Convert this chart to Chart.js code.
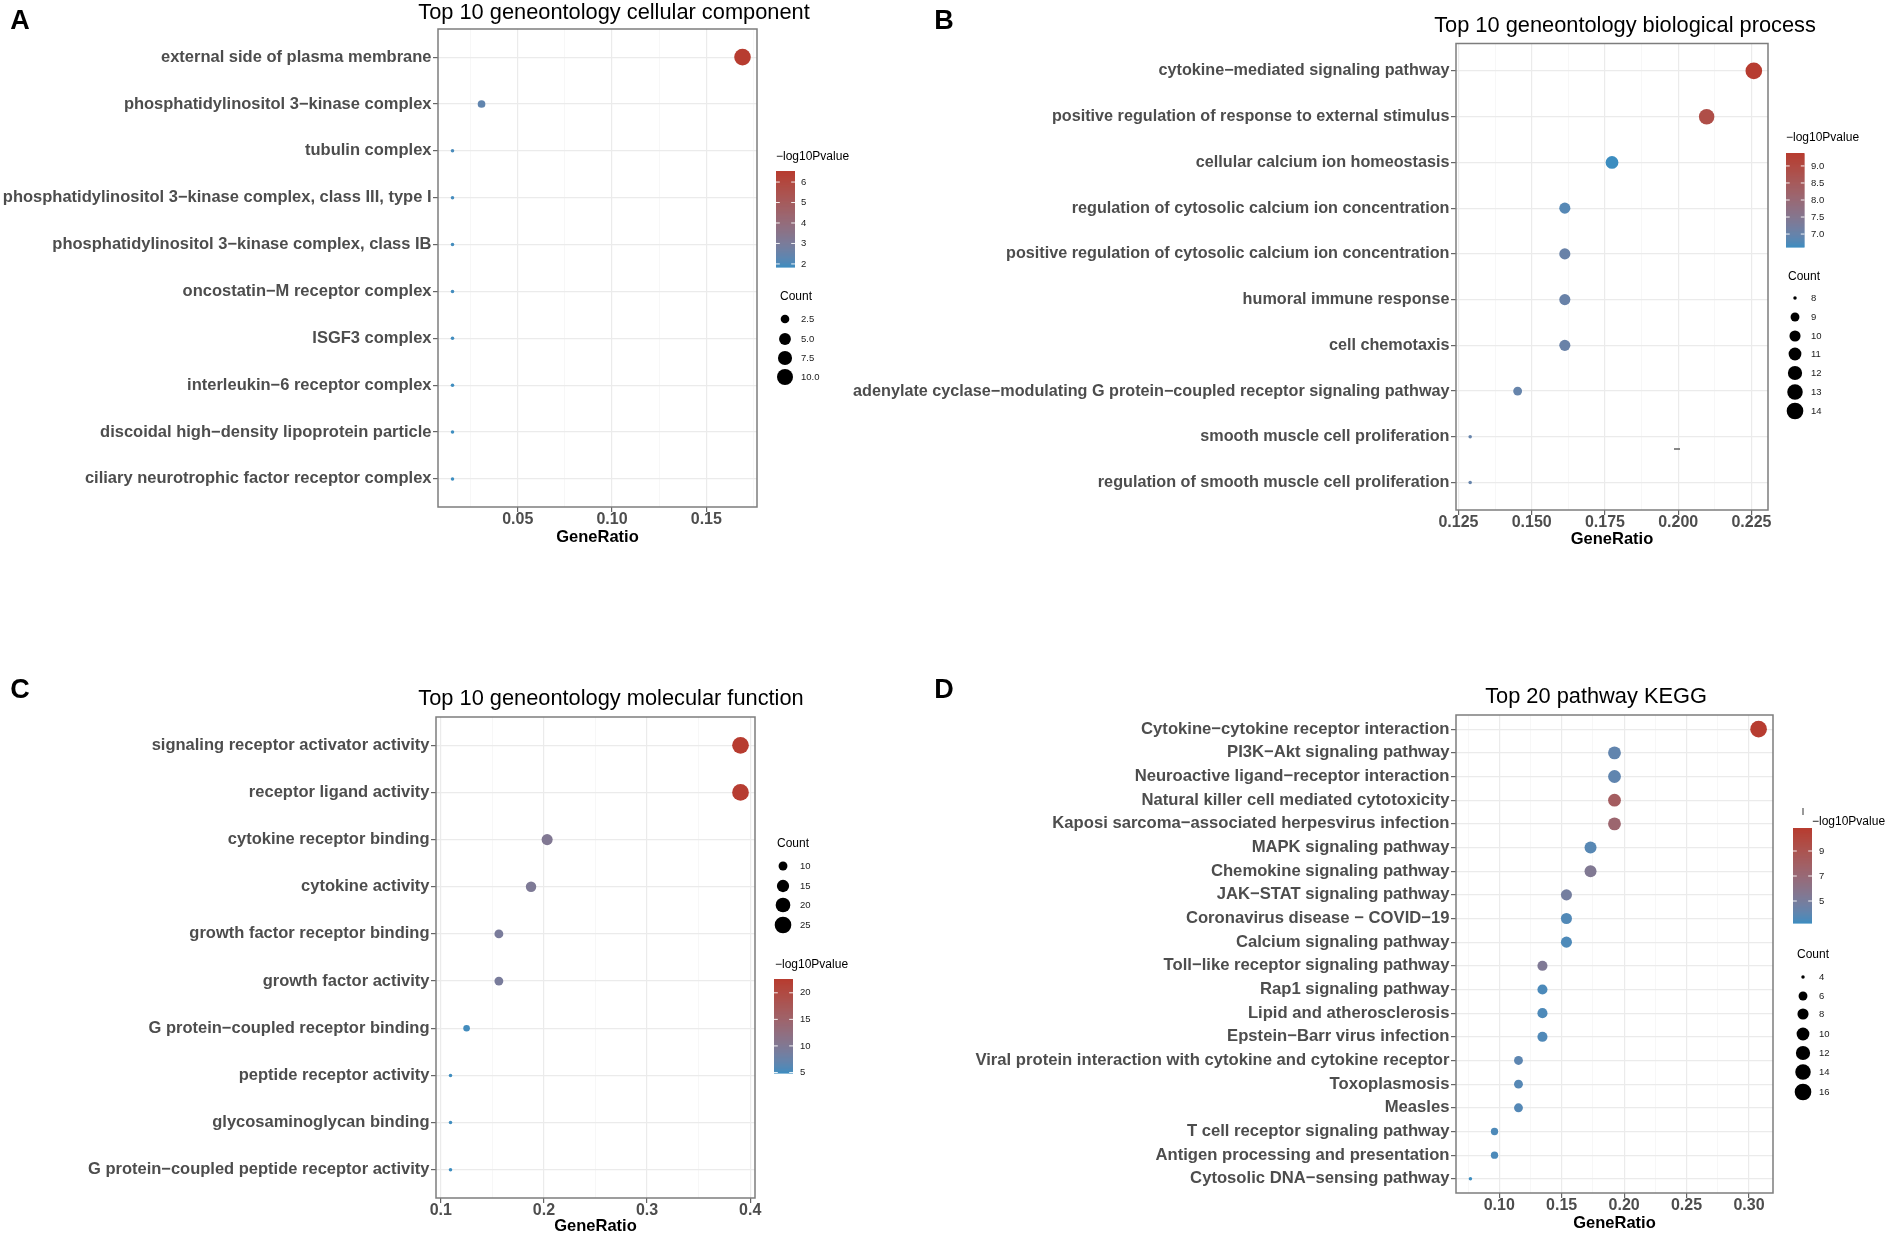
<!DOCTYPE html>
<html><head><meta charset="utf-8">
<script src="https://cdn.jsdelivr.net/npm/chart.js@4.4.1/dist/chart.umd.min.js"></script>
<style>
html,body{margin:0;padding:0;background:#fff;}
body{width:1890px;height:1234px;position:relative;overflow:hidden;}
canvas{position:absolute;}
</style></head><body>
<canvas id="cA" width="850" height="600" style="left:0px;top:0px"></canvas>
<canvas id="cB" width="1090" height="600" style="left:800px;top:0px"></canvas>
<canvas id="cC" width="850" height="660" style="left:0px;top:600px"></canvas>
<canvas id="cD" width="1090" height="660" style="left:800px;top:600px"></canvas>
<script>
// ================= DATA =================
// Panel A
const titleA = 'Top 10 geneontology cellular component';
const catsA = ['external side of plasma membrane','phosphatidylinositol 3−kinase complex','tubulin complex','phosphatidylinositol 3−kinase complex, class III, type I','phosphatidylinositol 3−kinase complex, class IB','oncostatin−M receptor complex','ISGF3 complex','interleukin−6 receptor complex','discoidal high−density lipoprotein particle','ciliary neurotrophic factor receptor complex'];
const ratioA = [0.1692,0.0308,0.0154,0.0154,0.0154,0.0154,0.0154,0.0154,0.0154,0.0154];
const countA = [11,2,1,1,1,1,1,1,1,1];
const logpA  = [6.54,2.4,2.0,1.95,1.93,1.91,1.90,1.88,1.86,1.85];
const xTicksA = [0.05,0.10,0.15];
const xTickLabelsA = ['0.05','0.10','0.15'];
const colorTicksA = [2,3,4,5,6];
const colorTickLabelsA = ['2','3','4','5','6'];
const sizeBreaksA = [2.5,5.0,7.5,10.0];
const sizeLabelsA = ['2.5','5.0','7.5','10.0'];

// Panel B
const titleB = 'Top 10 geneontology biological process';
const catsB = ['cytokine−mediated signaling pathway','positive regulation of response to external stimulus','cellular calcium ion homeostasis','regulation of cytosolic calcium ion concentration','positive regulation of cytosolic calcium ion concentration','humoral immune response','cell chemotaxis','adenylate cyclase−modulating G protein−coupled receptor signaling pathway','smooth muscle cell proliferation','regulation of smooth muscle cell proliferation'];
const ratioB = [0.2258,0.2097,0.1774,0.1613,0.1613,0.1613,0.1613,0.1452,0.1290,0.1290];
const countB = [14,13,11,10,10,10,10,9,8,8];
const logpB  = [9.38,8.9,6.62,6.82,7.05,7.05,7.05,7.0,7.0,7.0];
const xTicksB = [0.125,0.150,0.175,0.200,0.225];
const xTickLabelsB = ['0.125','0.150','0.175','0.200','0.225'];
const colorTicksB = [7.0,7.5,8.0,8.5,9.0];
const colorTickLabelsB = ['7.0','7.5','8.0','8.5','9.0'];
const sizeBreaksB = [8,9,10,11,12,13,14];
const sizeLabelsB = ['8','9','10','11','12','13','14'];

// Panel C
const titleC = 'Top 10 geneontology molecular function';
const catsC = ['signaling receptor activator activity','receptor ligand activity','cytokine receptor binding','cytokine activity','growth factor receptor binding','growth factor activity','G protein−coupled receptor binding','peptide receptor activity','glycosaminoglycan binding','G protein−coupled peptide receptor activity'];
const ratioC = [0.3906,0.3906,0.2031,0.1875,0.1563,0.1563,0.1250,0.1094,0.1094,0.1094];
const countC = [25,25,13,12,10,10,8,7,7,7];
const logpC  = [22.6,22.4,10.2,9.8,9.3,9.2,5.2,5.0,5.0,4.9];
const xTicksC = [0.1,0.2,0.3,0.4];
const xTickLabelsC = ['0.1','0.2','0.3','0.4'];
const colorTicksC = [5,10,15,20];
const colorTickLabelsC = ['5','10','15','20'];
const sizeBreaksC = [10,15,20,25];
const sizeLabelsC = ['10','15','20','25'];

// Panel D
const titleD = 'Top 20 pathway KEGG';
const catsD = ['Cytokine−cytokine receptor interaction','PI3K−Akt signaling pathway','Neuroactive ligand−receptor interaction','Natural killer cell mediated cytotoxicity','Kaposi sarcoma−associated herpesvirus infection','MAPK signaling pathway','Chemokine signaling pathway','JAK−STAT signaling pathway','Coronavirus disease − COVID−19','Calcium signaling pathway','Toll−like receptor signaling pathway','Rap1 signaling pathway','Lipid and atherosclerosis','Epstein−Barr virus infection','Viral protein interaction with cytokine and cytokine receptor','Toxoplasmosis','Measles','T cell receptor signaling pathway','Antigen processing and presentation','Cytosolic DNA−sensing pathway'];
const ratioD = [0.3077,0.1923,0.1923,0.1923,0.1923,0.1731,0.1731,0.1538,0.1538,0.1538,0.1346,0.1346,0.1346,0.1346,0.1154,0.1154,0.1154,0.0962,0.0962,0.0769];
const countD = [16,10,10,10,10,9,9,8,8,8,7,7,7,7,6,6,6,5,5,4];
const logpD  = [10.84,4.15,4.1,8.2,7.4,3.85,5.5,4.9,3.7,3.6,5.4,3.55,3.6,3.65,4.0,3.8,3.75,3.6,3.55,3.24];
const xTicksD = [0.10,0.15,0.20,0.25,0.30];
const xTickLabelsD = ['0.10','0.15','0.20','0.25','0.30'];
const colorTicksD = [5,7,9];
const colorTickLabelsD = ['5','7','9'];
const sizeBreaksD = [4,6,8,10,12,14,16];
const sizeLabelsD = ['4','6','8','10','12','14','16'];

// ================= STYLE / LAYOUT =================
const FONT = "'Liberation Sans', Arial, Helvetica, sans-serif";
const LOW = '#3C8DC0', HIGH = '#B73C30';
const K = 0.925;

function srgb2lin(c){c/=255;return c<=0.04045?c/12.92:Math.pow((c+0.055)/1.055,2.4);}
function lin2srgb(c){const v=c<=0.0031308?12.92*c:1.055*Math.pow(c,1/2.4)-0.055;return Math.round(Math.max(0,Math.min(1,v))*255);}
function hexToLab(hex){
  const r=parseInt(hex.slice(1,3),16),g=parseInt(hex.slice(3,5),16),b=parseInt(hex.slice(5,7),16);
  const R=srgb2lin(r),G=srgb2lin(g),B=srgb2lin(b);
  const X=(0.4124564*R+0.3575761*G+0.1804375*B)/0.95047;
  const Y=(0.2126729*R+0.7151522*G+0.0721750*B);
  const Z=(0.0193339*R+0.1191920*G+0.9503041*B)/1.08883;
  const f=t=>t>0.008856?Math.cbrt(t):(7.787*t+16/116);
  const fx=f(X),fy=f(Y),fz=f(Z);
  return [116*fy-16,500*(fx-fy),200*(fy-fz)];
}
function labToRgb(L,a,b){
  const fy=(L+16)/116,fx=fy+a/500,fz=fy-b/200;
  const finv=t=>{const t3=t*t*t;return t3>0.008856?t3:(t-16/116)/7.787;};
  const X=finv(fx)*0.95047,Y=finv(fy),Z=finv(fz)*1.08883;
  const R=3.2404542*X-1.5371385*Y-0.4985314*Z;
  const G=-0.9692660*X+1.8760108*Y+0.0415560*Z;
  const B=0.0556434*X-0.2040259*Y+1.0572252*Z;
  return `rgb(${lin2srgb(R)},${lin2srgb(G)},${lin2srgb(B)})`;
}
const LAB_LO = hexToLab(LOW), LAB_HI = hexToLab(HIGH);
function mix(t){t=Math.max(0,Math.min(1,t));return labToRgb(LAB_LO[0]+(LAB_HI[0]-LAB_LO[0])*t,LAB_LO[1]+(LAB_HI[1]-LAB_LO[1])*t,LAB_LO[2]+(LAB_HI[2]-LAB_LO[2])*t);}
function radiusFor(c,lo,hi){const s=1+5*Math.sqrt(Math.max(0,(c-lo)/(hi-lo)));return K/2*(2.845*s+0.945);}
function expandRange(arr){const lo=Math.min(...arr),hi=Math.max(...arr),d=(hi-lo)*0.05;return [lo-d,hi+d];}
function minorTicks(major,lo,hi){const step=major[1]-major[0];const out=[];for(let v=major[0]-step/2;v<=hi+1e-9;v+=step){if(v>=lo)out.push(v);}return out;}

const panels = [
 {id:'cA',ox:0,oy:0,w:850,h:600,area:{l:438,r:757,t:29,b:507},axisTitleY:537,yFont:16.5,
  title:titleA,titleX:614,titleY:13,letter:'A',letterX:20,letterY:22,
  cats:catsA,ratio:ratioA,count:countA,logp:logpA,xt:xTicksA,xtl:xTickLabelsA,
  color:{titleX:776,titleY:157,barX:776,barW:19,barTop:171,barBot:267,labX:801,ticks:colorTicksA,labels:colorTickLabelsA},
  size:{titleX:780,titleY:297,ys:[319,339,358,377],cx:785,labX:801,vals:sizeBreaksA,labels:sizeLabelsA}},
 {id:'cB',ox:800,oy:0,w:1090,h:600,area:{l:1456,r:1768,t:43.5,b:510},axisTitleY:539,yFont:16.2,
  title:titleB,titleX:1625,titleY:26,letter:'B',letterX:944,letterY:22,
  cats:catsB,ratio:ratioB,count:countB,logp:logpB,xt:xTicksB,xtl:xTickLabelsB,
  color:{titleX:1786,titleY:138,barX:1786,barW:18.5,barTop:153,barBot:247,labX:1811,ticks:colorTicksB,labels:colorTickLabelsB},
  size:{titleX:1788,titleY:277,ys:[298,317,336,354,373,392,411],cx:1795,labX:1811,vals:sizeBreaksB,labels:sizeLabelsB},
  dash:[1674,449,1680,449]},
 {id:'cC',ox:0,oy:600,w:850,h:660,area:{l:436,r:755,t:717,b:1198},axisTitleY:1226,yFont:16.5,
  title:titleC,titleX:611,titleY:699,letter:'C',letterX:20,letterY:691,
  cats:catsC,ratio:ratioC,count:countC,logp:logpC,xt:xTicksC,xtl:xTickLabelsC,
  size:{titleX:777,titleY:844,ys:[866,886,905,925],cx:783,labX:800,vals:sizeBreaksC,labels:sizeLabelsC},
  color:{titleX:775,titleY:965,barX:774,barW:19,barTop:979,barBot:1073,labX:800,ticks:colorTicksC,labels:colorTickLabelsC}},
 {id:'cD',ox:800,oy:600,w:1090,h:660,area:{l:1456,r:1773,t:715,b:1193},axisTitleY:1223,yFont:16.65,
  title:titleD,titleX:1596,titleY:697,letter:'D',letterX:944,letterY:691,
  cats:catsD,ratio:ratioD,count:countD,logp:logpD,xt:xTicksD,xtl:xTickLabelsD,
  color:{titleX:1812,titleY:822,barX:1793,barW:19,barTop:828,barBot:923,labX:1819,ticks:colorTicksD,labels:colorTickLabelsD},
  size:{titleX:1797,titleY:955,ys:[977,996,1014,1034,1053,1072,1092],cx:1803,labX:1819,vals:sizeBreaksD,labels:sizeLabelsD},
  bar:[1803,808,1803,815]}
];

function drawLegends(ctx,p){
  const ox=p.ox,oy=p.oy;
  const lo=Math.min(...p.logp),hi=Math.max(...p.logp);
  const cmin=Math.min(...p.count),cmax=Math.max(...p.count);
  const c=p.color;
  ctx.save();
  ctx.fillStyle='#000';ctx.textAlign='left';ctx.textBaseline='middle';
  ctx.font=`12px ${FONT}`;
  ctx.fillText('−log10Pvalue',c.titleX-ox,c.titleY-oy);
  const x=c.barX-ox,top=c.barTop-oy,bot=c.barBot-oy,H=bot-top;
  const n=Math.round(H);
  for(let i=0;i<n;i++){ctx.fillStyle=mix((i+0.5)/n);ctx.fillRect(x,bot-(i+1)*H/n,c.barW,H/n+0.6);}
  ctx.font=`9.5px ${FONT}`;
  c.ticks.forEach((v,k)=>{
    const y=bot-(v-lo)/(hi-lo)*H;
    ctx.strokeStyle='rgba(255,255,255,0.9)';ctx.lineWidth=1;
    ctx.beginPath();ctx.moveTo(x,y);ctx.lineTo(x+c.barW/5,y);ctx.moveTo(x+c.barW*4/5,y);ctx.lineTo(x+c.barW,y);ctx.stroke();
    ctx.fillStyle='#1a1a1a';ctx.fillText(c.labels[k],c.labX-ox,y);
  });
  const s=p.size;
  ctx.fillStyle='#000';ctx.font=`12px ${FONT}`;
  ctx.fillText('Count',s.titleX-ox,s.titleY-oy);
  ctx.font=`9.5px ${FONT}`;
  s.vals.forEach((v,k)=>{
    const y=s.ys[k]-oy;
    ctx.fillStyle='#000';ctx.beginPath();ctx.arc(s.cx-ox,y,radiusFor(v,cmin,cmax),0,Math.PI*2);ctx.fill();
    ctx.fillStyle='#1a1a1a';ctx.fillText(s.labels[k],s.labX-ox,y);
  });
  ctx.restore();
}

panels.forEach(p=>{
  const n=p.cats.length;
  const [xmin,xmax]=expandRange(p.ratio);
  const minors=minorTicks(p.xt,xmin,xmax);
  const allTicks=[...p.xt,...minors].sort((a,b)=>a-b);
  const isMajor=v=>p.xt.some(t=>Math.abs(t-v)<1e-9);
  const cmin=Math.min(...p.count),cmax=Math.max(...p.count);
  const lo=Math.min(...p.logp),hi=Math.max(...p.logp);
  const L=p.area.l-p.ox,R=p.area.r-p.ox,T=p.area.t-p.oy,B=p.area.b-p.oy;
  const axisH=(p.axisTitleY-p.oy)+8.25-B;
  const pb=Math.max(0,p.h-B-axisH);
  const plugin={id:'deco'+p.id,afterDraw(chart){
    const ctx=chart.ctx,a=chart.chartArea;
    ctx.save();
    ctx.strokeStyle='#7d7d7d';ctx.lineWidth=1.5;
    ctx.strokeRect(a.left,a.top,a.right-a.left,a.bottom-a.top);
    ctx.fillStyle='#000';ctx.textAlign='center';ctx.textBaseline='middle';
    ctx.font=`21.8px ${FONT}`;
    ctx.fillText(p.title,p.titleX-p.ox,p.titleY-p.oy);
    ctx.font=`bold 27px ${FONT}`;
    ctx.fillText(p.letter,p.letterX-p.ox,p.letterY-p.oy);
    if(p.dash){ctx.strokeStyle='#555';ctx.lineWidth=1.4;ctx.beginPath();ctx.moveTo(p.dash[0]-p.ox,p.dash[1]-p.oy);ctx.lineTo(p.dash[2]-p.ox,p.dash[3]-p.oy);ctx.stroke();}
    if(p.bar){ctx.strokeStyle='#555';ctx.lineWidth=1.2;ctx.beginPath();ctx.moveTo(p.bar[0]-p.ox,p.bar[1]-p.oy);ctx.lineTo(p.bar[2]-p.ox,p.bar[3]-p.oy);ctx.stroke();}
    ctx.restore();
    drawLegends(ctx,p);
  }};
  new Chart(document.getElementById(p.id),{
    type:'scatter',
    data:{datasets:[{
      data:p.ratio.map((x,i)=>({x:x,y:i})),
      pointRadius:c=>radiusFor(p.count[c.dataIndex],cmin,cmax),
      pointHoverRadius:c=>radiusFor(p.count[c.dataIndex],cmin,cmax),
      pointBackgroundColor:c=>mix((p.logp[c.dataIndex]-lo)/(hi-lo)),
      pointBorderWidth:0,pointBorderColor:'rgba(0,0,0,0)',showLine:false,clip:false
    }]},
    options:{
      responsive:false,animation:false,devicePixelRatio:1,events:[],
      layout:{padding:{left:0,right:p.w-R,top:T,bottom:pb}},
      plugins:{legend:{display:false},tooltip:{enabled:false},title:{display:false}},
      scales:{
        x:{type:'linear',position:'bottom',min:xmin,max:xmax,
          afterBuildTicks:s=>{s.ticks=allTicks.map(v=>({value:v}));},
          afterFit:s=>{s.height=axisH;s.paddingLeft=0;s.paddingRight=0;},
          ticks:{autoSkip:false,maxRotation:0,minRotation:0,padding:0,color:'#4D4D4D',
            font:{family:FONT,size:16,weight:'bold',lineHeight:0.9},
            callback:v=>{const k=p.xt.findIndex(t=>Math.abs(t-v)<1e-9);return k>=0?p.xtl[k]:'';}},
          grid:{color:c=>isMajor(c.tick.value)?'#EBEBEB':'#F4F4F4',lineWidth:c=>isMajor(c.tick.value)?1.2:0.7,
            tickColor:c=>isMajor(c.tick.value)?'#666':'rgba(0,0,0,0)',tickLength:5,tickWidth:1.2},
          border:{display:false},
          title:{display:true,text:'GeneRatio',color:'#000',padding:0,font:{family:FONT,size:16.5,weight:'bold',lineHeight:1}}
        },
        y:{type:'linear',reverse:true,min:-0.6,max:n-1+0.6,
          afterBuildTicks:s=>{s.ticks=p.cats.map((_,i)=>({value:i}));},
          afterFit:s=>{s.width=L;s.paddingTop=0;s.paddingBottom=0;},
          ticks:{autoSkip:false,padding:1.5,color:'#4D4D4D',font:{family:FONT,size:p.yFont,weight:'bold'},
            callback:v=>p.cats[v]},
          grid:{color:'#EBEBEB',lineWidth:1.2,tickColor:'#666',tickLength:5,tickWidth:1.2},
          border:{display:false}
        }
      }
    },
    plugins:[plugin]
  });
});
</script>
</body></html>
